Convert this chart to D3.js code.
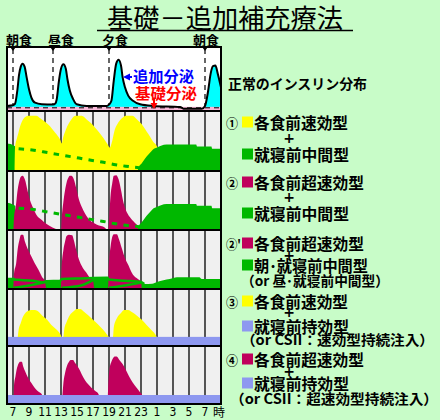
<!DOCTYPE html>
<html><head><meta charset="utf-8">
<script src="https://cdn.jsdelivr.net/npm/d3@7"></script>
<style>
html,body{margin:0;padding:0;background:#c8fcc8;}
svg{display:block;}
</style></head><body>
<svg id="chart" width="440" height="420"></svg>
<script>
// ---------------- data ----------------
const hourTicks = [7, 9, 11, 13, 15, 17, 19, 21, 23, 25, 27, 29, 31];
const tickLabels = ["7", "9", "11", "13", "15", "17", "19", "21", "23", "1", "3", "5", "7"];
const mealHours = [7, 12, 19, 31];
const mealLabels = ["朝食", "昼食", "夕食", "朝食"];

// normal insulin secretion (hour, relative level)
const normalCurve = [[6.25,0.08],[7.0,0.09],[7.25,0.11],[7.54,0.32],[7.75,0.56],[7.96,0.69],[8.2,0.74],[8.46,0.69],[8.7,0.53],[9.0,0.34],[9.3,0.21],[9.75,0.13],[10.6,0.106],[12.0,0.1],[12.3,0.12],[12.46,0.18],[12.75,0.48],[13.0,0.66],[13.3,0.73],[13.6,0.66],[13.8,0.5],[14.1,0.32],[14.5,0.19],[14.96,0.106],[16.2,0.08],[18.7,0.08],[19.0,0.1],[19.3,0.16],[19.6,0.48],[19.9,0.74],[20.2,0.8],[20.5,0.71],[20.7,0.53],[21.0,0.37],[21.4,0.24],[22.0,0.16],[22.9,0.106],[24.5,0.08],[27.9,0.063],[28.3,0.037],[30.6,0.037],[31.0,0.08],[31.4,0.32],[31.7,0.58],[32.0,0.7],[32.3,0.71],[32.6,0.58],[33.0,0.37]];
const basalBand = 0.065;
const basalDash = 0.05;

// panel 1: rapid-acting before meals (yellow) + bedtime intermediate (green)
const rapid1 = [[7.2,0.0],[7.25,0.38],[7.5,0.55],[7.65,0.62],[7.9,0.75],[8.25,0.86],[8.9,0.92],[9.9,0.92],[10.4,0.88],[11.0,0.82],[11.6,0.75],[12.25,0.64],[12.9,0.52],[13.1,0.46],[13.25,0.55],[13.5,0.65],[13.8,0.75],[14.1,0.82],[14.4,0.88],[14.8,0.92],[15.6,0.92],[16.2,0.86],[16.9,0.78],[17.6,0.67],[18.3,0.55],[18.8,0.45],[19.1,0.39],[19.4,0.5],[19.7,0.68],[20.0,0.77],[20.4,0.85],[20.8,0.9],[21.1,0.92],[21.9,0.92],[22.5,0.86],[23.1,0.78],[23.7,0.66],[24.1,0.58],[24.5,0.49],[25.0,0.41],[25.1,0.38]];
const nphLeft = [[6.25,0.46],[6.7,0.45],[7.0,0.43],[7.3,0.41]];
const nphDash = [[7.7,0.37],[9.4,0.35],[10.75,0.32],[12.0,0.29],[13.75,0.25],[15.25,0.215],[16.75,0.18],[18.1,0.15],[19.6,0.11],[21.1,0.08],[22.8,0.055]];
const nphRight = [[22.6,0.0],[22.65,0.05],[23.1,0.13],[23.7,0.24],[24.1,0.3],[24.5,0.36],[25.0,0.39],[25.5,0.42],[26.2,0.44],[29.9,0.44],[30.0,0.41],[31.8,0.41],[31.9,0.37],[33.0,0.37]];

// panel 2: ultra-rapid before meals (crimson)
const ultra2 = [[7.05,0],[7.12,0.2],[7.37,0.42],[7.54,0.64],[7.75,0.81],[7.96,0.9],[8.2,0.92],[8.5,0.85],[8.8,0.68],[9.12,0.51],[9.54,0.37],[9.96,0.25],[10.6,0.17],[11.2,0.1],[12.0,0.04],[12.9,0],[13.0,0],[13.09,0.2],[13.29,0.47],[13.5,0.67],[13.71,0.81],[13.9,0.88],[14.1,0.92],[14.3,0.92],[14.6,0.86],[14.9,0.71],[15.2,0.54],[15.6,0.39],[16.0,0.28],[16.6,0.17],[17.5,0.09],[18.5,0.04],[18.75,0],[18.9,0],[19.04,0.25],[19.2,0.59],[19.4,0.79],[19.6,0.92],[19.9,0.93],[20.2,0.86],[20.5,0.68],[20.8,0.47],[21.1,0.34],[21.6,0.22],[22.25,0.12],[22.8,0.05],[23.1,0]];

// panel 3: ultra-rapid + morning & bedtime intermediate
const ultra3 = [[7.05,0],[7.12,0.25],[7.4,0.44],[7.6,0.69],[7.8,0.83],[8.0,0.92],[8.25,0.92],[8.5,0.8],[8.8,0.69],[9.3,0.55],[9.7,0.44],[10.2,0.32],[10.6,0.21],[11.0,0.12],[11.2,0],[13.0,0],[13.05,0.3],[13.3,0.66],[13.5,0.8],[13.7,0.9],[14.0,0.92],[14.4,0.91],[14.6,0.83],[14.9,0.66],[15.35,0.46],[15.75,0.35],[16.2,0.27],[16.6,0.19],[17.0,0.14],[17.2,0],[18.9,0],[18.95,0.3],[19.2,0.72],[19.4,0.88],[19.6,0.93],[20.0,0.93],[20.2,0.86],[20.6,0.69],[21.0,0.52],[21.4,0.41],[21.8,0.29],[22.2,0.21],[22.6,0.17],[23.0,0.12],[23.1,0]];
const nph3Total = [[6.25,0.19],[7.05,0.19],[7.15,0.16],[9.5,0.14],[10.8,0.11],[11.2,0.13],[12.9,0.14],[13.1,0.17],[15.5,0.18],[18.8,0.19],[19.0,0.16],[21.0,0.14],[23.0,0.12],[23.4,0.085],[24.4,0.09],[25.0,0.12],[25.8,0.15],[26.6,0.17],[27.5,0.2],[30.3,0.2],[30.6,0.17],[33.0,0.17]];
const nph3Morning = [[7.1,0.02],[9.0,0.06],[10.8,0.11]];
const nph3Noon = [[13.1,0.02],[15.5,0.06],[17.1,0.16]];
const nph3Evening = [[19.0,0.02],[21.0,0.06],[23.0,0.11]];

// panel 4: rapid-acting (yellow) + long-acting basal (blue)
const rapid4 = [[7.6,0.16],[7.7,0.28],[7.96,0.4],[8.2,0.5],[8.5,0.57],[8.9,0.62],[9.3,0.63],[9.75,0.63],[10.2,0.6],[10.6,0.54],[11.2,0.47],[11.8,0.37],[12.5,0.28],[12.9,0.21],[13.1,0.16],[13.3,0.16],[13.4,0.28],[13.7,0.42],[14.1,0.54],[14.5,0.6],[15.0,0.65],[15.4,0.65],[15.8,0.61],[16.4,0.54],[17.0,0.46],[17.7,0.37],[18.3,0.28],[18.8,0.19],[19.0,0.16],[19.5,0.16],[19.6,0.33],[20.0,0.49],[20.5,0.58],[20.9,0.63],[21.4,0.63],[21.8,0.6],[22.5,0.53],[23.1,0.46],[23.7,0.37],[24.3,0.28],[24.75,0.21],[24.96,0.16]];
const basal4 = 0.16;

// panel 5: ultra-rapid (crimson) + long-acting basal (blue)
const ultra5 = [[7.08,0],[7.13,0.33],[7.3,0.47],[7.5,0.62],[7.7,0.7],[7.9,0.73],[8.1,0.73],[8.3,0.64],[8.5,0.57],[8.9,0.45],[9.3,0.36],[9.75,0.27],[10.2,0.21],[10.6,0.17],[10.8,0],[13.1,0],[13.2,0.19],[13.3,0.36],[13.5,0.53],[13.7,0.64],[14.0,0.73],[14.2,0.76],[14.5,0.76],[14.75,0.71],[15.2,0.62],[15.6,0.51],[16.0,0.41],[16.4,0.34],[16.8,0.28],[17.25,0.23],[17.7,0.17],[17.9,0],[18.8,0],[18.9,0.3],[19.05,0.59],[19.3,0.73],[19.5,0.79],[19.75,0.82],[19.96,0.82],[20.3,0.76],[20.7,0.69],[21.1,0.59],[21.5,0.48],[21.96,0.37],[22.5,0.27],[22.9,0.2],[23.1,0.17],[23.2,0]];
const basal5 = 0.155;

const legendMarks = ["①", "②", "②'", "③", "④"];

// ---------------- drawing ----------------
const C = {
  bg: "#c8fcc8", panel: "#f0f0f0", yellow: "#ffff00", green: "#00b800",
  crimson: "#c0005c", blue: "#8e98f0", cyan: "#00ffff", pink: "#f8b8d8"
};
const JP = "'Noto Sans CJK JP', 'Noto Sans CJK SC', sans-serif";
const svg = d3.select("#chart");
const x = d3.scaleLinear().domain([6.25, 33]).range([7, 221]);
const X0 = 7, X1 = 221;

const defs = svg.append("defs");
function makePanel(id, top, bottom, bg, grid) {
  defs.append("clipPath").attr("id", "clip-" + id)
    .append("rect").attr("x", X0).attr("y", top).attr("width", X1 - X0).attr("height", bottom - top);
  const g = svg.append("g").attr("clip-path", `url(#clip-${id})`);
  g.append("rect").attr("x", X0).attr("y", top).attr("width", X1 - X0).attr("height", bottom - top).attr("fill", bg);
  if (grid) {
    g.selectAll("line.grid").data(hourTicks).join("line")
      .attr("x1", d => x(d)).attr("x2", d => x(d)).attr("y1", top).attr("y2", bottom)
      .attr("stroke", "#000").attr("stroke-width", 1.3);
  }
  const y = d3.scaleLinear().domain([0, 1]).range([bottom, top]);
  return {g, y, top, bottom};
}
const areaGen = (y) => d3.area().x(d => x(d[0])).y0(y(0)).y1(d => y(d[1])).curve(d3.curveMonotoneX);
const lineGen = (y) => d3.line().x(d => x(d[0])).y(d => y(d[1])).curve(d3.curveMonotoneX);

// ---- top panel: normal secretion ----
{
  const P = makePanel("top", 47, 111, "#ffffff", false);
  const {g, y} = P;
  g.selectAll("line.meal").data(mealHours).join("line")
    .attr("x1", d => x(d)).attr("x2", d => x(d)).attr("y1", 49).attr("y2", 111)
    .attr("stroke", "#000").attr("stroke-width", 1.2).attr("stroke-dasharray", "5,4");
  g.append("path").datum(normalCurve).attr("d", areaGen(y)).attr("fill", C.cyan);
  g.append("rect").attr("x", X0).attr("y", y(basalBand)).attr("width", X1 - X0).attr("height", y(0) - y(basalBand)).attr("fill", C.pink);
  g.append("line").attr("x1", X0).attr("x2", X1).attr("y1", y(basalDash)).attr("y2", y(basalDash))
    .attr("stroke", "#000").attr("stroke-width", 1).attr("stroke-dasharray", "5,4");
  g.append("path").datum(normalCurve).attr("d", lineGen(y)).attr("fill", "none").attr("stroke", "#000").attr("stroke-width", 2);
  g.selectAll("path.tri").data(mealHours).join("path")
    .attr("d", d => `M${x(d) - 2.5},47.5 L${x(d) + 2.5},47.5 L${x(d)},51 Z`).attr("fill", "#000");
  // arrows
  g.append("path").attr("d", "M123,77 L130,73.5 L130,80.5 Z").attr("fill", "#0000ff");
  g.append("line").attr("x1", 128).attr("x2", 132).attr("y1", 77).attr("y2", 77).attr("stroke", "#0000ff").attr("stroke-width", 2);
  g.append("line").attr("x1", 154).attr("x2", 154).attr("y1", 99).attr("y2", 104).attr("stroke", "#ff0000").attr("stroke-width", 2);
  g.append("path").attr("d", "M150.5,103 L157.5,103 L154,109 Z").attr("fill", "#ff0000");
}
// meal labels
svg.selectAll("text.meal").data(mealHours).join("text")
  .attr("x", (d, i) => [19, 61, 115, 206][i]).attr("y", 39)
  .attr("text-anchor", "middle").attr("dominant-baseline", "central")
  .attr("font-family", JP).attr("font-weight", 700).attr("font-size", 13)
  .text((d, i) => mealLabels[i]);
svg.append("text").attr("x", 163.5).attr("y", 75).attr("text-anchor", "middle").attr("dominant-baseline", "central")
  .attr("font-family", JP).attr("font-weight", 700).attr("font-size", 15).attr("fill", "#0000ff")
  .attr("textLength", 61).attr("lengthAdjust", "spacingAndGlyphs").text("追加分泌");
svg.append("text").attr("x", 166).attr("y", 92.5).attr("text-anchor", "middle").attr("dominant-baseline", "central")
  .attr("font-family", JP).attr("font-weight", 700).attr("font-size", 15).attr("fill", "#ff0000")
  .attr("textLength", 62).attr("lengthAdjust", "spacingAndGlyphs").text("基礎分泌");

// ---- panel 1 ----
{
  const {g, y} = makePanel("p1", 111, 171, C.panel, true);
  g.append("path").datum(nphLeft).attr("d", areaGen(y)).attr("fill", C.green);
  g.append("path").datum(rapid1).attr("d", areaGen(y)).attr("fill", C.yellow);
  g.append("path").datum(nphRight).attr("d", areaGen(y)).attr("fill", C.green);
  g.append("path").datum(nphDash).attr("d", lineGen(y)).attr("fill", "none").attr("stroke", C.green)
    .attr("stroke-width", 3).attr("stroke-dasharray", "5.5,6.3");
}
// ---- panel 2 ----
{
  const {g, y} = makePanel("p2", 171, 230, C.panel, true);
  g.append("path").datum(nphLeft).attr("d", areaGen(y)).attr("fill", C.green);
  g.append("path").datum(ultra2).attr("d", areaGen(y)).attr("fill", C.crimson);
  g.append("path").datum(nphRight).attr("d", areaGen(y)).attr("fill", C.green);
  g.append("path").datum(nphDash).attr("d", lineGen(y)).attr("fill", "none").attr("stroke", C.green)
    .attr("stroke-width", 3).attr("stroke-dasharray", "5.5,6.3");
}
// ---- panel 3 ----
{
  const {g, y} = makePanel("p3", 230, 289, C.panel, true);
  g.append("path").datum(nph3Total).attr("d", areaGen(y)).attr("fill", C.green);
  g.append("path").datum(ultra3).attr("d", areaGen(y)).attr("fill", C.crimson);
  g.append("path").datum(nph3Total.filter(d => d[0] > 7 && d[0] < 23.5)).attr("d", lineGen(y))
    .attr("fill", "none").attr("stroke", C.green).attr("stroke-width", 2.5);
  [nph3Morning, nph3Noon, nph3Evening].forEach(seg => {
    g.append("path").datum(seg).attr("d", lineGen(y)).attr("fill", "none").attr("stroke", C.green).attr("stroke-width", 2.5);
  });
}
// ---- panel 4 ----
{
  const {g, y} = makePanel("p4", 289, 346, C.panel, true);
  g.append("path").datum(rapid4).attr("d", areaGen(y)).attr("fill", C.yellow);
  g.append("rect").attr("x", X0).attr("y", y(basal4)).attr("width", X1 - X0).attr("height", y(0) - y(basal4)).attr("fill", C.blue);
}
// ---- panel 5 ----
{
  const {g, y} = makePanel("p5", 346, 404, C.panel, true);
  g.append("path").datum(ultra5).attr("d", areaGen(y)).attr("fill", C.crimson);
  g.append("rect").attr("x", X0).attr("y", y(basal5)).attr("width", X1 - X0).attr("height", y(0) - y(basal5)).attr("fill", C.blue);
}
// borders
[[47,111],[111,171],[171,230],[230,289],[289,346],[346,404]].forEach(([t, b]) => {
  svg.append("rect").attr("x", X0).attr("y", t).attr("width", X1 - X0).attr("height", b - t)
    .attr("fill", "none").attr("stroke", "#000").attr("stroke-width", 2);
});

// x axis labels
svg.selectAll("text.tick").data(hourTicks).join("text")
  .attr("x", d => x(d)).attr("y", 412).attr("text-anchor", "middle").attr("dominant-baseline", "central")
  .attr("font-family", "'Liberation Sans Narrow', 'DejaVu Sans Condensed', sans-serif").attr("font-size", 12)
  .text((d, i) => tickLabels[i]);
svg.append("text").attr("x", 219).attr("y", 411).attr("text-anchor", "middle").attr("dominant-baseline", "central")
  .attr("font-family", JP).attr("font-size", 12).text("時");

// title
svg.append("text").attr("x", 225).attr("y", 16).attr("text-anchor", "middle").attr("dominant-baseline", "central")
  .attr("font-family", JP).attr("font-size", 26).attr("textLength", 236).attr("lengthAdjust", "spacingAndGlyphs")
  .text("基礎－追加補充療法");
svg.append("line").attr("x1", 97).attr("x2", 353).attr("y1", 30.5).attr("y2", 30.5).attr("stroke", "#000").attr("stroke-width", 1.5);

// right-hand legend
function jpText(t, xx, yy, size, len, anchor) {
  const el = svg.append("text").attr("x", xx).attr("y", yy).attr("dominant-baseline", "central")
    .attr("text-anchor", anchor || "start").attr("font-family", JP).attr("font-weight", 700).attr("font-size", size).text(t);
  if (len) el.attr("textLength", len).attr("lengthAdjust", "spacingAndGlyphs");
  return el;
}
function square(color, yy) {
  svg.append("rect").attr("x", 242).attr("y", yy - 5.5).attr("width", 11).attr("height", 11).attr("fill", color);
}
jpText("正常のインスリン分布", 228, 83, 14, 139);

const legendBlocks = [
  {mark: legendMarks[0], y: 122, c1: C.yellow, t1: "各食前速効型", w1: 94, plusY: 138, c2: C.green, t2: "就寝前中間型", w2: 95, y2: 154},
  {mark: legendMarks[1], y: 182, c1: C.crimson, t1: "各食前超速効型", w1: 110, plusY: 197, c2: C.green, t2: "就寝前中間型", w2: 95, y2: 213},
  {mark: legendMarks[2], y: 243, c1: C.crimson, t1: "各食前超速効型", w1: 110, plusY: 255, c2: C.green, t2: "朝･就寝前中間型", w2: 114, y2: 265,
   note: "（or 昼･就寝前中間型）", nx: 241, ny: 280, nw: 148},
  {mark: legendMarks[3], y: 301, c1: C.yellow, t1: "各食前速効型", w1: 94, plusY: 312, c2: C.blue, t2: "就寝前持効型", w2: 95, y2: 326,
   note: "（or CSII：速効型持続注入）", nx: 241, ny: 339, nw: 193},
  {mark: legendMarks[4], y: 359, c1: C.crimson, t1: "各食前超速効型", w1: 110, plusY: 371, c2: C.blue, t2: "就寝前持効型", w2: 95, y2: 383,
   note: "（or CSII：超速効型持続注入）", nx: 230, ny: 398, nw: 208}
];
legendBlocks.forEach(b => {
  jpText(b.mark, 226, b.y, 13, b.mark.length > 1 ? 15 : 12);
  square(b.c1, b.y);
  jpText(b.t1, 254, b.y, 15.5, b.w1);
  jpText("+", 289, b.plusY, 14, null, "middle").attr("font-family", "'DejaVu Sans', sans-serif");
  square(b.c2, b.y2);
  jpText(b.t2, 254, b.y2, 15.5, b.w2);
  if (b.note) jpText(b.note, b.nx, b.ny, 14, b.nw);
});
</script>
</body></html>
